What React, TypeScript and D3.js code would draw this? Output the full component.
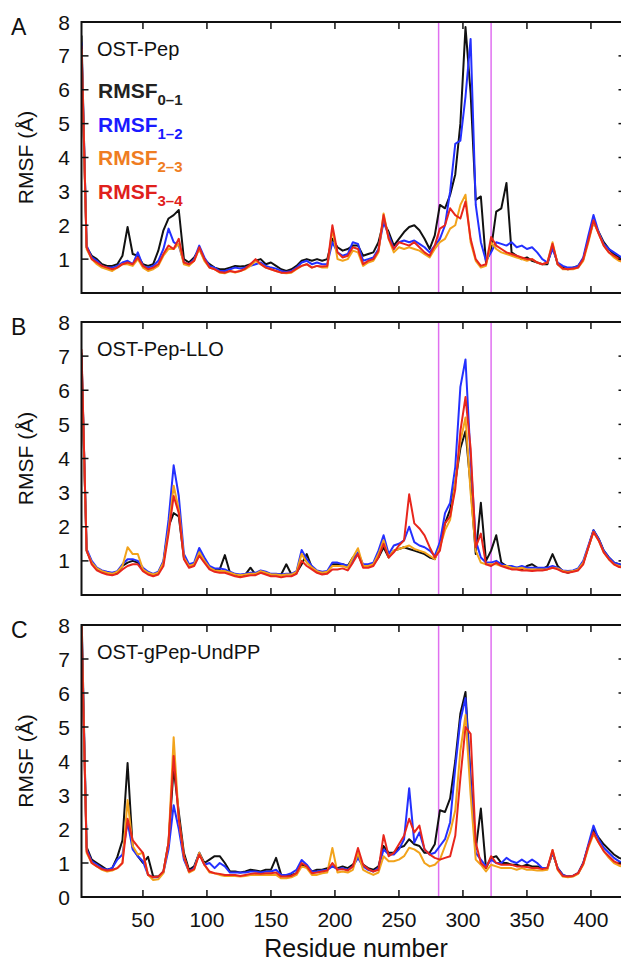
import React from "react";
import * as d3 from "d3";

const residues = [2,6,10,14,18,22,26,30,34,38,42,46,50,54,58,62,66,70,74,78,82,86,90,94,98,102,106,110,114,118,122,126,130,134,138,142,146,150,154,158,162,166,170,174,178,182,186,190,194,198,202,206,210,214,218,222,226,230,234,238,242,246,250,254,258,262,266,270,274,278,282,286,290,294,298,302,306,310,314,318,322,326,330,334,338,342,346,350,354,358,362,366,370,374,378,382,386,390,394,398,402,406,410,414,418,422,426];

// Panel A: OST-Pep
const aRmsf01 = [7.6,1.35,1.1,1.0,0.85,0.8,0.8,0.85,1.1,1.95,
1.15,1.1,0.85,0.8,0.85,1.25,1.85,2.2,2.3,2.45,
1.0,0.9,1.05,1.3,1.0,0.85,0.75,0.7,0.7,0.75,
0.8,0.78,0.8,0.85,0.95,1.0,0.85,0.9,0.8,0.7,
0.65,0.7,0.8,0.95,1.0,0.95,1.0,0.95,1.0,1.6,
1.35,1.25,1.3,1.4,1.4,1.1,1.15,1.2,1.5,2.1,
1.8,1.4,1.6,1.8,1.95,2.0,1.85,1.6,1.3,1.7,
2.6,2.5,2.9,3.5,5.0,7.85,5.9,2.75,2.85,0.9,
1.3,2.4,2.5,3.25,1.2,1.1,1.0,1.05,0.95,0.9,
0.85,0.85,1.4,0.85,0.75,0.7,0.75,0.8,1.0,1.6,
2.1,1.8,1.5,1.3,1.15,1.05,1.0];
const aRmsf12 = [7.4,1.4,1.05,0.95,0.8,0.75,0.75,0.8,0.9,0.95,
0.85,1.2,0.8,0.75,0.8,0.95,1.3,1.9,1.5,1.4,
0.9,0.85,1.0,1.4,1.05,0.8,0.75,0.65,0.65,0.7,
0.75,0.72,0.75,0.8,0.85,0.9,0.8,0.75,0.72,0.65,
0.62,0.65,0.75,0.9,0.95,0.85,0.9,0.85,0.85,1.5,
1.2,1.1,1.15,1.5,1.45,0.95,1.0,1.05,1.3,2.1,
1.7,1.3,1.5,1.55,1.5,1.55,1.45,1.35,1.2,1.4,
1.6,2.0,3.0,4.4,4.5,5.8,7.5,2.6,1.5,0.95,
1.2,1.5,1.45,1.4,1.5,1.35,1.4,1.3,1.35,1.2,
1.0,0.9,1.3,0.9,0.8,0.75,0.75,0.8,1.05,1.7,
2.3,1.8,1.45,1.3,1.2,1.1,1.0];
const aRmsf23 = [7.2,1.3,1.0,0.85,0.75,0.7,0.65,0.75,0.85,0.85,
0.8,1.0,0.75,0.65,0.7,0.8,1.1,1.3,1.3,1.45,
0.85,0.8,0.95,1.3,0.95,0.75,0.7,0.6,0.58,0.65,
0.6,0.65,0.7,0.8,0.95,0.85,0.75,0.7,0.65,0.6,
0.58,0.6,0.7,0.8,0.85,0.75,0.8,0.75,0.75,1.9,
1.0,0.95,1.0,1.25,1.2,0.8,0.9,0.95,1.2,2.35,
1.6,1.2,1.35,1.3,1.35,1.3,1.25,1.15,1.05,1.3,
1.5,1.6,1.9,2.0,2.6,2.9,1.5,0.95,0.75,0.8,
1.5,1.3,1.2,1.15,1.1,1.05,1.0,0.95,1.0,0.9,
0.85,0.9,1.5,0.85,0.7,0.7,0.7,0.75,0.95,1.5,
2.1,1.75,1.4,1.2,1.05,0.95,0.9];
const aRmsf34 = [7.3,1.35,1.0,0.9,0.8,0.75,0.7,0.75,0.85,0.9,
0.85,1.05,0.8,0.7,0.75,0.85,1.15,1.4,1.3,1.6,
0.9,0.85,0.95,1.35,1.0,0.75,0.7,0.62,0.6,0.65,
0.62,0.65,0.72,0.85,1.0,0.85,0.75,0.7,0.65,0.6,
0.6,0.62,0.72,0.8,0.85,0.75,0.8,0.78,0.8,2.0,
1.2,1.05,1.1,1.35,1.3,0.85,0.95,1.0,1.25,2.3,
1.6,1.3,1.5,1.45,1.4,1.5,1.35,1.2,1.1,1.4,
1.9,2.0,2.5,2.3,2.2,2.7,1.6,1.0,0.8,0.85,
1.65,1.4,1.3,1.2,1.15,1.1,1.05,1.0,1.0,0.9,
0.85,0.9,1.45,0.85,0.72,0.7,0.72,0.75,1.0,1.55,
2.15,1.75,1.4,1.2,1.1,1.0,0.95];

// Panel B: OST-Pep-LLO
const bRmsf01 = [7.1,1.3,0.95,0.75,0.7,0.65,0.6,0.65,0.85,0.95,
1.0,0.95,0.75,0.65,0.6,0.65,0.95,2.0,2.4,2.3,
1.1,0.85,0.9,1.25,1.0,0.8,0.75,0.75,1.17,0.65,
0.6,0.55,0.6,0.8,0.6,0.7,0.65,0.6,0.6,0.6,
0.9,0.6,0.65,0.9,1.2,0.8,0.7,0.65,0.65,0.9,
0.9,0.9,0.85,1.1,1.2,0.85,0.85,0.9,1.1,1.4,
1.1,1.3,1.35,1.4,1.35,1.3,1.25,1.2,1.1,1.05,
1.5,2.1,2.5,3.3,4.3,4.8,3.2,1.2,2.7,1.0,
1.3,1.75,0.95,0.85,0.8,0.8,0.75,0.85,0.9,0.8,
0.75,0.85,1.2,0.85,0.7,0.65,0.7,0.75,0.95,1.4,
1.9,1.65,1.3,1.1,0.95,0.9,0.85];
const bRmsf12 = [7.0,1.35,1.0,0.8,0.72,0.68,0.65,0.7,0.9,1.05,
1.05,1.0,0.8,0.68,0.62,0.68,1.0,2.2,3.8,2.9,
1.2,0.9,0.95,1.38,1.1,0.85,0.78,0.78,0.75,0.68,
0.62,0.6,0.62,0.65,0.65,0.72,0.68,0.62,0.62,0.6,
0.62,0.62,0.7,1.32,1.05,0.85,0.72,0.68,0.7,0.95,
0.95,0.9,0.85,1.0,1.25,0.9,0.9,0.95,1.3,1.75,
1.2,1.45,1.5,1.6,2.0,1.55,1.45,1.4,1.3,1.15,
1.55,2.4,2.7,3.75,6.1,6.9,4.0,1.6,1.1,0.95,
0.95,1.0,0.9,0.85,0.85,0.8,0.85,0.8,0.8,0.8,
0.8,0.8,0.85,0.8,0.72,0.7,0.72,0.78,1.0,1.45,
1.9,1.65,1.3,1.1,0.95,0.9,0.85];
const bRmsf23 = [6.9,1.3,0.95,0.78,0.7,0.65,0.62,0.68,0.85,1.4,
1.2,1.2,0.75,0.65,0.6,0.65,0.95,1.9,3.2,2.5,
1.1,0.85,0.9,1.25,1.0,0.8,0.72,0.7,0.7,0.65,
0.6,0.58,0.6,0.62,0.62,0.7,0.65,0.6,0.6,0.58,
0.6,0.6,0.68,1.2,0.95,0.8,0.7,0.65,0.68,0.85,
0.85,0.85,0.8,1.1,1.37,0.85,0.85,0.9,1.2,1.6,
1.1,1.3,1.35,1.4,1.45,1.35,1.3,1.25,1.15,1.05,
1.4,1.9,2.2,3.3,4.5,5.2,3.0,1.3,0.95,0.9,
0.9,0.9,0.85,0.85,0.8,0.78,0.8,0.75,0.75,0.75,
0.75,0.75,0.8,0.78,0.7,0.68,0.7,0.75,0.95,1.4,
1.85,1.6,1.25,1.05,0.9,0.85,0.8];
const bRmsf34 = [7.2,1.3,0.9,0.72,0.65,0.6,0.58,0.62,0.75,0.85,
0.9,0.9,0.7,0.6,0.55,0.6,0.85,1.8,2.9,2.4,
1.05,0.8,0.85,1.15,0.95,0.75,0.68,0.65,0.65,0.6,
0.55,0.52,0.55,0.58,0.58,0.65,0.6,0.55,0.55,0.52,
0.55,0.55,0.62,1.0,0.85,0.75,0.65,0.6,0.62,0.75,
0.75,0.78,0.72,0.95,1.2,0.8,0.8,0.85,1.1,1.5,
1.1,1.25,1.45,1.6,2.95,2.1,1.95,1.75,1.4,1.1,
1.3,2.1,2.3,3.1,4.8,5.8,4.3,1.4,1.8,0.9,
0.85,0.95,0.85,0.8,0.75,0.75,0.72,0.72,0.7,0.72,
0.72,0.75,0.8,0.75,0.68,0.65,0.68,0.72,0.9,1.4,
1.85,1.6,1.25,1.05,0.9,0.82,0.8];

// Panel C: OST-gPep-UndPP
const cRmsf01 = [8.4,1.47,1.1,1.0,0.9,0.8,0.85,1.18,1.67,3.94,
1.45,1.2,1.0,1.18,0.6,0.6,0.75,1.6,3.8,2.5,
1.3,0.8,0.9,1.3,1.0,1.1,1.2,1.2,1.0,0.75,
0.75,0.72,0.75,0.8,0.78,0.75,0.8,0.8,1.15,0.65,
0.62,0.65,0.7,0.95,0.9,0.75,0.8,0.8,0.85,0.9,
0.85,0.9,0.85,0.95,1.2,0.95,0.85,0.8,0.9,1.5,
1.3,1.3,1.45,1.5,1.7,1.55,1.5,1.3,1.3,1.55,
2.55,2.5,2.9,4.0,5.4,6.03,3.5,1.4,2.6,0.85,
1.15,1.2,1.0,1.0,0.95,0.95,0.9,0.95,0.9,0.9,
0.85,0.85,1.3,0.85,0.65,0.6,0.62,0.7,1.0,1.5,
1.97,1.75,1.55,1.4,1.25,1.15,1.1];
const cRmsf12 = [8.2,1.4,1.05,0.95,0.85,0.8,0.85,1.1,1.25,2.2,
1.4,1.2,1.05,0.65,0.58,0.58,0.72,1.4,2.7,2.0,
1.1,0.75,0.85,1.3,0.95,1.0,0.85,1.0,0.9,0.72,
0.72,0.72,0.72,0.75,0.75,0.72,0.75,0.75,0.8,0.65,
0.65,0.7,0.8,1.09,0.95,0.75,0.75,0.78,0.8,0.9,
0.82,0.85,0.8,0.9,1.15,0.9,0.8,0.75,0.85,1.4,
1.25,1.25,1.4,1.7,3.2,1.6,1.9,1.4,1.25,1.3,
1.5,1.7,2.2,3.8,5.2,5.85,3.4,1.3,1.1,0.9,
1.1,1.0,1.0,1.15,1.05,1.0,1.1,1.0,1.1,1.0,
0.85,0.85,1.3,0.85,0.65,0.6,0.62,0.7,1.0,1.55,
2.1,1.7,1.45,1.3,1.15,1.05,1.0];
const cRmsf23 = [8.1,1.3,1.0,0.9,0.8,0.75,0.78,0.85,1.0,2.85,
1.5,1.25,1.3,0.65,0.5,0.52,0.7,1.6,4.7,2.3,
1.2,0.72,0.8,1.3,0.95,0.72,0.7,0.65,0.62,0.62,
0.62,0.6,0.62,0.65,0.65,0.65,0.65,0.65,0.65,0.55,
0.55,0.58,0.65,0.9,0.85,0.65,0.65,0.7,0.72,1.44,
0.72,0.75,0.72,0.8,1.3,0.8,0.72,0.65,0.72,1.2,
1.05,1.05,1.1,1.2,1.45,1.4,1.3,1.0,0.9,0.95,
1.1,1.5,1.9,2.55,4.3,5.35,3.0,1.1,0.95,0.75,
0.95,0.9,0.85,0.85,0.85,0.8,0.85,0.8,0.8,0.78,
0.78,0.8,1.38,0.8,0.6,0.58,0.6,0.68,0.95,1.45,
1.85,1.6,1.35,1.15,1.0,0.92,0.88];
const cRmsf34 = [8.0,1.35,1.0,0.9,0.82,0.78,0.8,0.85,1.0,2.3,
1.67,1.48,1.3,0.65,0.58,0.6,0.75,1.6,4.15,2.3,
1.2,0.75,0.82,1.25,0.95,0.75,0.7,0.68,0.65,0.65,
0.65,0.62,0.65,0.68,0.7,0.68,0.7,0.7,0.72,0.6,
0.6,0.62,0.7,1.0,0.9,0.7,0.72,0.75,0.78,1.0,
0.8,0.82,0.78,0.9,1.44,0.95,0.82,0.75,0.8,1.82,
1.2,1.3,1.55,1.8,2.3,1.9,2.1,1.4,1.25,1.15,
1.1,1.15,1.2,1.8,3.5,5.0,4.8,1.6,1.0,0.85,
1.2,1.0,0.95,0.95,0.95,0.9,0.9,0.88,0.85,0.85,
0.82,0.85,1.38,0.82,0.62,0.6,0.62,0.7,0.98,1.5,
1.9,1.6,1.35,1.2,1.05,0.98,0.95];

const panelLetters = ["A", "B", "C"];
const panelNames = ["OST-Pep", "OST-Pep-LLO", "OST-gPep-UndPP"];
const seriesSubs = ["0–1", "1–2", "2–3", "3–4"];
const xTicks = [50, 100, 150, 200, 250, 300, 350, 400];
const yTicks = [0, 1, 2, 3, 4, 5, 6, 7, 8];
const markerResidues = [281, 322];

const lineColors = ["#111111", "#2430ff", "#f2a31b", "#e8261c"];
const legendColors = ["#222222", "#1a1aff", "#ef7d22", "#e0201c"];

const panelSeries = [
  [aRmsf01, aRmsf12, aRmsf23, aRmsf34],
  [bRmsf01, bRmsf12, bRmsf23, bRmsf34],
  [cRmsf01, cRmsf12, cRmsf23, cRmsf34],
];

const W = 621;
const H = 965;
const LEFT = 81.5;
const RIGHT = 625.5;
const TOPS = [22, 322, 625];
const BOTTOMS = [293, 595, 897];
const FONT = "'Liberation Sans', Arial, Helvetica, sans-serif";

export default function App() {
  const x = d3.scaleLinear().domain([2, 427]).range([LEFT, RIGHT]);
  return (
    <svg
      width={W}
      height={H}
      style={{ position: "absolute", left: 0, top: 0, background: "#fff" }}
      fontFamily={FONT}
    >
      <rect x={0} y={0} width={W} height={H} fill="#fff" />
      {panelSeries.map((series, p) => {
        const top = TOPS[p];
        const bottom = BOTTOMS[p];
        const y = d3.scaleLinear().domain([0, 8]).range([bottom, top]);
        const line = d3
          .line<number>()
          .x((_, i) => x(residues[i]))
          .y((d) => y(d));
        const clipId = `clip-${p}`;
        const labels = p === 2 ? yTicks : yTicks.filter((t) => t > 0);
        return (
          <g key={p}>
            <defs>
              <clipPath id={clipId}>
                <rect x={LEFT} y={top} width={RIGHT - LEFT} height={bottom - top} />
              </clipPath>
            </defs>
            {markerResidues.map((r) => (
              <line
                key={r}
                x1={x(r)}
                x2={x(r)}
                y1={top}
                y2={bottom}
                stroke="#e070f0"
                strokeWidth={1.5}
              />
            ))}
            <g clipPath={`url(#${clipId})`}>
              {series.map((s, k) => (
                <path
                  key={k}
                  d={line(s) || ""}
                  fill="none"
                  stroke={lineColors[k]}
                  strokeWidth={2}
                  strokeLinejoin="round"
                />
              ))}
            </g>
            <rect
              x={LEFT}
              y={top}
              width={RIGHT - LEFT}
              height={bottom - top}
              fill="none"
              stroke="#111"
              strokeWidth={2}
            />
            {xTicks.map((t) => (
              <g key={t}>
                <line x1={x(t)} x2={x(t)} y1={bottom} y2={bottom - 7} stroke="#111" strokeWidth={1.5} />
                <line x1={x(t)} x2={x(t)} y1={top} y2={top + 7} stroke="#111" strokeWidth={1.5} />
              </g>
            ))}
            {yTicks.map((t) => (
              <g key={t}>
                <line x1={LEFT} x2={LEFT + 7} y1={y(t)} y2={y(t)} stroke="#111" strokeWidth={1.5} />
                <line x1={RIGHT - 7} x2={RIGHT} y1={y(t)} y2={y(t)} stroke="#111" strokeWidth={1.5} />
              </g>
            ))}
            {labels.map((t) => (
              <text key={t} x={70} y={y(t)} dy="0.36em" textAnchor="end" fontSize={21} fill="#111">
                {t}
              </text>
            ))}
            <text
              transform={`translate(33, ${(top + bottom) / 2}) rotate(-90)`}
              textAnchor="middle"
              fontSize={21}
              fill="#111"
            >
              RMSF (Å)
            </text>
            <text x={11} y={top + 13} fontSize={23} fill="#111">
              {panelLetters[p]}
            </text>
            <text x={97} y={top + 33.5} fontSize={20} fill="#111">
              {panelNames[p]}
            </text>
            {p === 2 &&
              xTicks.map((t) => (
                <text key={t} x={x(t)} y={927} textAnchor="middle" fontSize={21} fill="#111">
                  {t}
                </text>
              ))}
          </g>
        );
      })}
      {seriesSubs.map((s, k) => (
        <text key={s} x={98} y={98 + k * 33.5} fontSize={21} fontWeight="bold" fill={legendColors[k]}>
          RMSF
          <tspan fontSize={15} dy={7}>
            {s}
          </tspan>
        </text>
      ))}
      <text x={356} y={957} textAnchor="middle" fontSize={25} fill="#111">
        Residue number
      </text>
    </svg>
  );
}
